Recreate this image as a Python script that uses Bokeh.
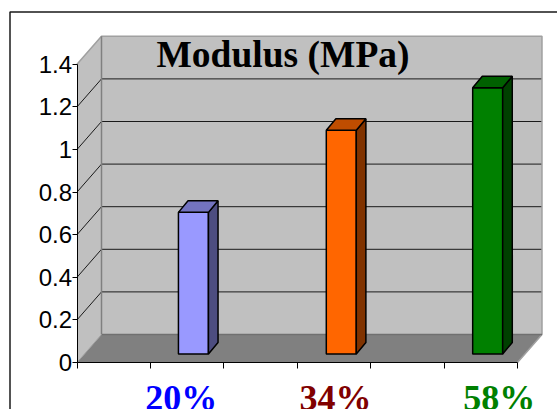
from bokeh.plotting import figure
from bokeh.models import FixedTicker, ColumnDataSource
from bokeh.core.properties import value
from bokeh.embed import file_html
from bokeh.resources import INLINE

# Data
categories = ["20%", "34%", "58%"]
modulus = [0.665, 1.05, 1.25]
y_ticks = [0, 0.2, 0.4, 0.6, 0.8, 1, 1.2, 1.4]
y_labels = ["0", "0.2", "0.4", "0.6", "0.8", "1", "1.2", "1.4"]
x_ticks = [0, 0.5, 1, 1.5, 2, 2.5, 3]
title_text = "Modulus (MPa)"

# Styles
label_colors = ["#0000FF", "#800000", "#008000"]
front_colors = ["#9999FF", "#FF6600", "#008000"]
top_colors = ["#7373BF", "#BF4D00", "#006000"]
side_colors = ["#4D4D80", "#803300", "#004000"]

# Geometry (picture pixels -> data scale)
W, H = 557, 409
PAGE = 0
X0, Y0 = 76.5, 362.0          # picture position of the data origin
PX_X, PX_Y = 146.83, 213.0    # pixels per category / per MPa
DX, DY = 24.5 / PX_X, 28.0 / PX_Y   # chart depth
BAR_W = 30 / PX_X
BAR_DX, BAR_DY = 9.6 / PX_X, 11.6 / PX_Y
BAR_BASE = 8.5 / PX_Y
BAR_CENTERS = [0.793, 1.80, 2.797]
LABEL_X = [0.71, 1.76, 2.875]


def dx(px):
    return (px - X0) / PX_X


def dy(py):
    return (Y0 - py) / PX_Y


p = figure(
    width=W, height=H, output_backend="svg", toolbar_location=None,
    x_range=(dx(PAGE), dx(PAGE + W)), y_range=(dy(PAGE + H), dy(PAGE)),
    min_border=0, min_border_left=0, min_border_right=0, min_border_top=0, min_border_bottom=0,
    outline_line_color=None, background_fill_color="white", border_fill_color="white",
    tools="",
)
p.grid.visible = False

XMAX, YMAX = x_ticks[-1], y_ticks[-1]

# Walls and floor
p.patch([0, DX, DX, 0], [0, DY, YMAX + DY, YMAX], fill_color="#C0C0C0", line_color=None)
p.patch([DX, XMAX + DX, XMAX + DX, DX], [DY, DY, YMAX + DY, YMAX + DY], fill_color="#C0C0C0", line_color=None)
p.patch([0, XMAX, XMAX + DX, DX], [0, 0, DY, DY], fill_color="#808080", line_color=None)

# Grid
inner = y_ticks[1:-1]
p.multi_line([[DX, XMAX + DX] for _ in inner], [[v + DY, v + DY] for v in inner], line_color="#1A1A1A", line_width=1)
p.multi_line([[0, DX] for _ in inner], [[v, v + DY] for v in inner], line_color="#1A1A1A", line_width=1)

# Wall edges
p.line([0, DX, XMAX + DX, XMAX + DX, XMAX], [YMAX, YMAX + DY, YMAX + DY, DY, 0], line_color="#A0A0A0", line_width=1.5)
p.line([DX, DX], [DY, YMAX + DY], line_color="#808080", line_width=1.5)
p.line([DX, XMAX + DX], [DY, DY], line_color="#707070", line_width=1.5)
p.line([0, DX], [0, DY], line_color="#A0A0A0", line_width=1)

# Bars
for i, v in enumerate(modulus):
    x1 = BAR_CENTERS[i] - BAR_W / 2
    x2 = x1 + BAR_W
    y1 = BAR_BASE
    y2 = BAR_BASE + v
    p.patch([x1, x2, x2, x1], [y1, y1, y2, y2], fill_color=front_colors[i], line_color="black", line_width=1.5)
    p.patch([x2, x2 + BAR_DX, x2 + BAR_DX, x2], [y1, y1 + BAR_DY, y2 + BAR_DY, y2],
            fill_color=side_colors[i], line_color="black", line_width=1.5)
    p.patch([x1, x2, x2 + BAR_DX, x1 + BAR_DX], [y2, y2, y2 + BAR_DY, y2 + BAR_DY],
            fill_color=top_colors[i], line_color="black", line_width=1.5)

# Axes
ya = p.yaxis[0]
ya.fixed_location = 0
ya.bounds = (0, YMAX)
ya.ticker = FixedTicker(ticks=y_ticks)
ya.major_label_overrides = dict(zip(y_ticks, y_labels))
ya.major_label_text_font = "Liberation Sans"
ya.major_label_text_font_size = "24px"
ya.major_label_text_color = "black"
ya.major_label_standoff = 0
ya.major_tick_in = 0
ya.major_tick_out = 5
ya.minor_tick_line_color = None
ya.axis_line_color = "black"
ya.major_tick_line_color = "black"

xa = p.xaxis[0]
xa.fixed_location = 0
xa.bounds = (0, XMAX)
xa.ticker = FixedTicker(ticks=x_ticks)
xa.major_label_text_font_size = "0px"
xa.major_label_text_color = None
xa.major_tick_in = 0
xa.major_tick_out = 6
xa.minor_tick_line_color = None
xa.axis_line_color = "black"
xa.major_tick_line_color = "black"

# Title and category labels
p.text(x=[dx(282.5)], y=[dy(33)], text=[title_text], text_font=value("Liberation Serif"),
       text_font_style="bold", text_font_size="37.5px", text_color="black",
       text_align="center", text_baseline="top")
p.text(x="x", y="y", text="t", text_color="c", text_font=value("Liberation Serif"),
       text_font_style="bold", text_font_size="36px", text_align="center", text_baseline="top",
       source=ColumnDataSource(dict(x=LABEL_X, y=[dy(377)] * 3, t=categories, c=label_colors)))

# Outer frame
p.line([dx(9.5), dx(9.5), dx(PAGE + W)], [dy(PAGE + H), dy(11.5), dy(11.5)], line_color="#1A1A1A", line_width=1.5)

open("out.html", "w").write(file_html(p, INLINE))
